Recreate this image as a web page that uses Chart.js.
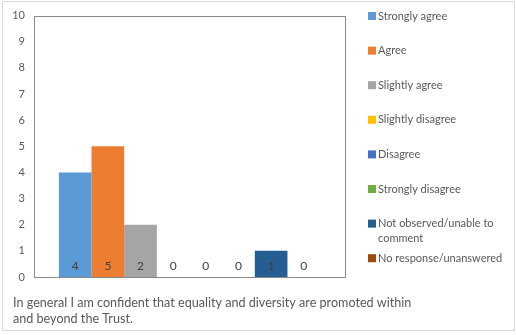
<!DOCTYPE html>
<html>
<head>
<meta charset="utf-8">
<script src="https://cdn.jsdelivr.net/npm/chart.js@4.4.1/dist/chart.umd.min.js"></script>
<style>
  html, body { margin: 0; padding: 0; background: #fff; }
  #wrap { position: relative; width: 516px; height: 335px; }
</style>
</head>
<body>
<div id="wrap"><canvas id="surveyChart" width="516" height="335"></canvas></div>
<script>
// survey answers for one statement
const categories = [''];
const responseLabels = [
  'Strongly agree',
  'Agree',
  'Slightly agree',
  'Slightly disagree',
  'Disagree',
  'Strongly disagree',
  'Not observed/unable to comment',
  'No response/unanswered'
];
const responseCounts = [4, 5, 2, 0, 0, 0, 1, 0];
const responseColors = ['#5B9BD5', '#ED7D31', '#A5A5A5', '#FFC000', '#4472C4', '#70AD47', '#255E91', '#9E480E'];
const yTicks = [0, 1, 2, 3, 4, 5, 6, 7, 8, 9, 10];
const captionLines = [
  'In general I am confident that equality and diversity are promoted within',
  'and beyond the Trust.'
];

const FONT = 'Lato, "Liberation Sans", sans-serif';
const TEXT_GREY = '#595959';

let datasets = responseLabels.map((label, i) => ({
  label: label,
  data: [responseCounts[i]],
  backgroundColor: responseColors[i],
  borderWidth: 0,
  barPercentage: 1,
  categoryPercentage: 0.84
}));

// value labels sitting just above the axis in each bar
const barValues = {
  id: 'barValues',
  afterDatasetsDraw(chart) {
    const ctx = chart.ctx;
    const y0 = chart.scales.y.getPixelForValue(0);
    ctx.save();
    ctx.font = '12px ' + FONT;
    ctx.fillStyle = '#404040';
    ctx.textAlign = 'center';
    ctx.textBaseline = 'middle';
    chart.data.datasets.forEach((ds, i) => {
      const bar = chart.getDatasetMeta(i).data[0];
      ctx.fillText(String(ds.data[0]), bar.x, y0 - 11);
    });
    ctx.restore();
  }
};

// plot box, legend on the right, caption and outer frame
const decorations = {
  id: 'decorations',
  afterDraw(chart) {
    const ctx = chart.ctx;
    const a = chart.chartArea;
    ctx.save();

    ctx.strokeStyle = '#898989';
    ctx.lineWidth = 1;
    ctx.strokeRect(Math.round(a.left) + 0.5, Math.round(a.top) + 0.5,
                   Math.round(a.right - a.left), Math.round(a.bottom - a.top));

    // legend
    ctx.font = '11px ' + FONT;
    ctx.textBaseline = 'middle';
    ctx.textAlign = 'left';
    const boxX = 368, textX = 378, maxW = 134;
    let y = 16;
    const step = 34.6;
    chart.data.datasets.forEach((ds) => {
      ctx.fillStyle = ds.backgroundColor;
      ctx.fillRect(boxX, y - 4, 8, 8);
      ctx.fillStyle = TEXT_GREY;
      const words = ds.label.split(' ');
      let lines = [], cur = '';
      words.forEach(w => {
        const t = cur ? cur + ' ' + w : w;
        if (ctx.measureText(t).width > maxW && cur) { lines.push(cur); cur = w; }
        else cur = t;
      });
      lines.push(cur);
      lines.forEach((ln, k) => ctx.fillText(ln, textX, y + k * 15));
      y += step;
    });

    // caption
    ctx.font = '12.6px ' + FONT;
    captionLines.forEach((ln, k) => ctx.fillText(ln, 13, 303 + k * 16));

    // frame
    ctx.strokeStyle = '#d9d9d9';
    ctx.strokeRect(2.5, 1.5, 512, 329);
    ctx.restore();
  }
};

new Chart(document.getElementById('surveyChart'), {
  type: 'bar',
  data: { labels: categories, datasets: datasets },
  options: {
    responsive: false,
    animation: false,
    layout: { padding: { left: 0, top: 15, right: 171, bottom: 58 } },
    plugins: {
      legend: { display: false },
      tooltip: { enabled: false }
    },
    scales: {
      x: {
        grid: { display: false, drawTicks: false },
        border: { display: false },
        ticks: { display: false },
        afterFit(scale) { scale.height = 0; }
      },
      y: {
        min: yTicks[0],
        max: yTicks[yTicks.length - 1],
        afterBuildTicks(scale) { scale.ticks = yTicks.map(v => ({ value: v })); },
        afterFit(scale) { scale.width = 34; },
        grid: { display: false, drawTicks: false },
        border: { display: false },
        ticks: {
          padding: 9,
          color: TEXT_GREY,
          font: { family: FONT, size: 11 }
        }
      }
    }
  },
  plugins: [barValues, decorations]
});
</script>
</body>
</html>
